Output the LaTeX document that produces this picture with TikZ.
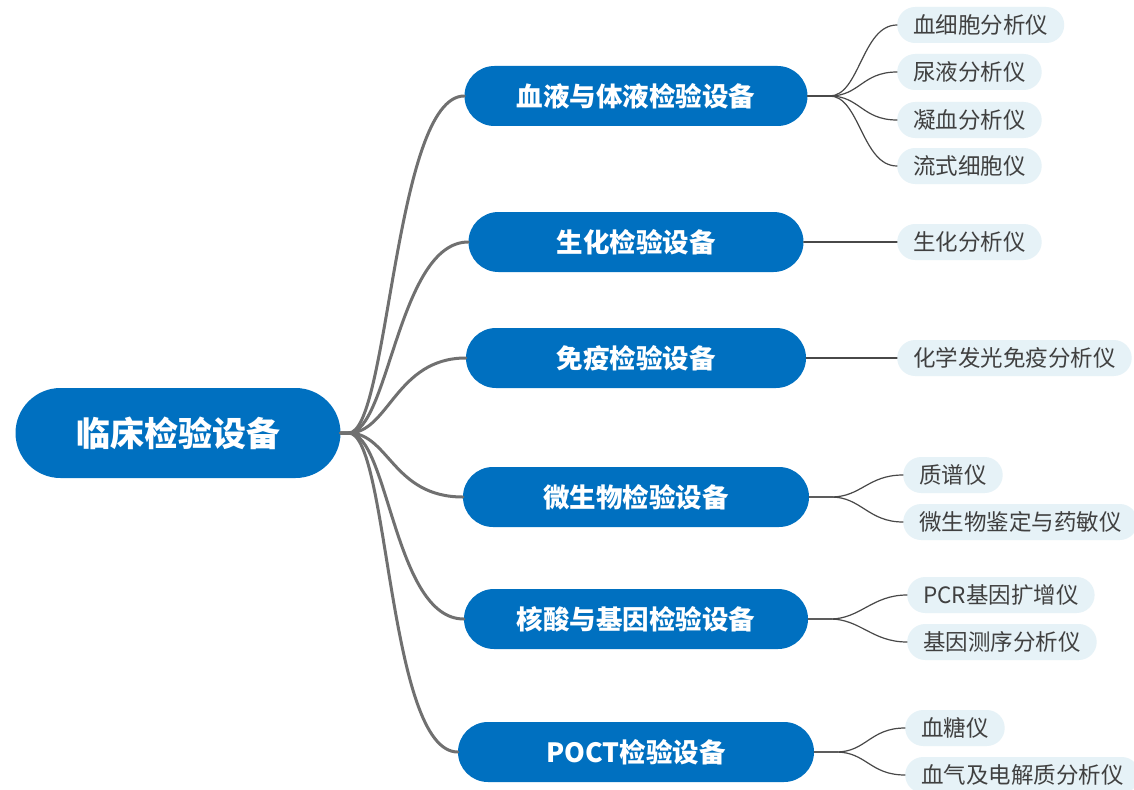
\documentclass[tikz,border=0pt]{standalone}
\usepackage{fontspec}
\setmainfont{Noto Sans CJK SC}

\definecolor{nodeblue}{RGB}{0,112,192}
\definecolor{leaffill}{RGB}{230,242,247}
\definecolor{trunkgray}{RGB}{112,112,112}
\definecolor{twiggray}{RGB}{72,72,72}
\definecolor{leaftext}{RGB}{64,64,64}

\begin{document}
\begin{tikzpicture}[x=1pt, y=-1pt, line cap=round,
		rootnode/.style={fill=nodeblue, text=white, rounded corners=45pt,
			minimum width=325pt, minimum height=90pt, inner sep=0pt,
			font=\bfseries\fontsize{34}{40}\selectfont},
		groupnode/.style={fill=nodeblue, text=white, rounded corners=30pt,
			minimum height=60pt, inner sep=0pt,
			font=\bfseries\fontsize{26.5}{30}\selectfont},
		leafnode/.style={fill=leaffill, text=leaftext, rounded corners=18pt,
			minimum height=36pt, inner xsep=16pt, inner ysep=0pt, anchor=west,
			font=\fontsize{22.5}{26}\selectfont},
		trunk/.style={draw=trunkgray, line width=3pt},
		twig/.style={draw=twiggray, line width=1.2pt}]

			% canvas
			\useasboundingbox[fill=white] (0,0) rectangle (1134,789);

			% constants
			\pgfmathsetmacro{\groupx}{636};
			\pgfmathsetmacro{\stem}{22};

			% root
			\node[rootnode] (root) at ( 178, 433 ) {临床检验设备};

			% groups
			\node[groupnode, minimum width=343pt] (blood) at ( \groupx, 96 ) {血液与体液检验设备};
			\node[groupnode, minimum width=335pt] (biochem) at ( \groupx, 242 ) {生化检验设备};
			\node[groupnode, minimum width=340pt] (immune) at ( \groupx, 358 ) {免疫检验设备};
			\node[groupnode, minimum width=346pt] (micro) at ( \groupx, 497 ) {微生物检验设备};
			\node[groupnode, minimum width=344pt] (gene) at ( \groupx, 619 ) {核酸与基因检验设备};
			\node[groupnode, minimum width=356pt] (poct) at ( \groupx, 752 ) {POCT检验设备};

			% leaves
			\node[leafnode] (bloodA) at ( 897, 25 ) {血细胞分析仪};
			\node[leafnode] (bloodB) at ( 897, 72 ) {尿液分析仪};
			\node[leafnode] (bloodC) at ( 897, 120 ) {凝血分析仪};
			\node[leafnode] (bloodD) at ( 897, 166 ) {流式细胞仪};
			\node[leafnode] (biochemA) at ( 897, 242 ) {生化分析仪};
			\node[leafnode] (immuneA) at ( 897, 358 ) {化学发光免疫分析仪};
			\node[leafnode] (microA) at ( 903, 475 ) {质谱仪};
			\node[leafnode] (microB) at ( 903, 522 ) {微生物鉴定与药敏仪};
			\node[leafnode] (geneA) at ( 907, 595 ) {PCR基因扩增仪};
			\node[leafnode] (geneB) at ( 907, 642 ) {基因测序分析仪};
			\node[leafnode] (poctA) at ( 905, 728 ) {血糖仪};
			\node[leafnode] (poctB) at ( 905, 775 ) {血气及电解质分析仪};

			% root to groups
			\foreach \g in {blood, biochem, immune, micro, gene, poct}
				\draw[trunk] (root.east) -- ++( 8, 0 )
					.. controls +( 40, 0 ) and +( -70, 0 ) .. (\g.west);

			% groups to leaves
			\foreach \g/\l in {blood/bloodA, blood/bloodB, blood/bloodC, blood/bloodD,
					micro/microA, micro/microB, gene/geneA, gene/geneB,
					poct/poctA, poct/poctB}
				\draw[twig] (\g.east) -- ++( \stem, 0 )
					.. controls +( 30, 0 ) and +( -35, 0 ) .. (\l.west);
			\draw[twig] (biochem.east) -- (biochemA.west);
			\draw[twig] (immune.east) -- (immuneA.west);

		\end{tikzpicture}
\end{document}
